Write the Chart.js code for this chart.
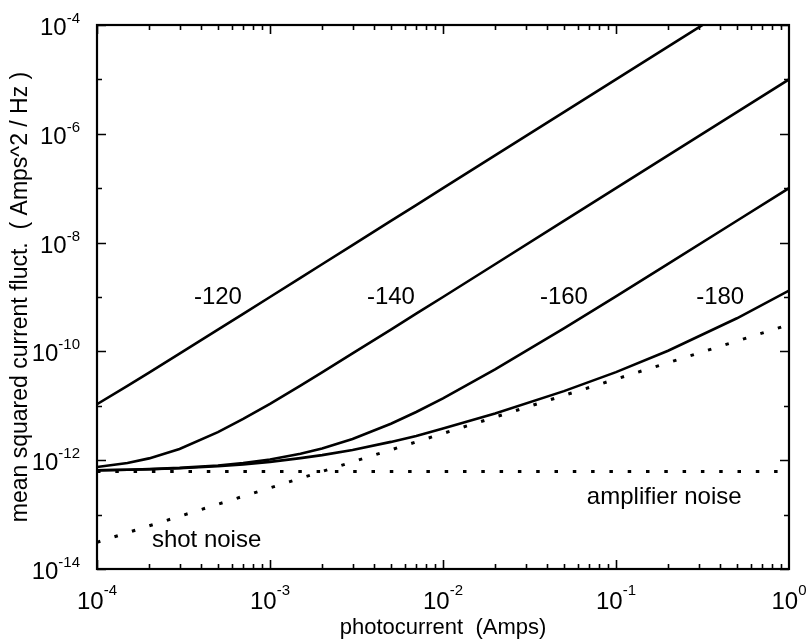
<!DOCTYPE html>
<html>
<head>
<meta charset="utf-8">
<script src="https://cdn.jsdelivr.net/npm/chart.js@4.4.1/dist/chart.umd.min.js"></script>
<style>
  html, body { margin: 0; padding: 0; background: #fff; }
  #wrap { width: 809px; height: 643px; }
</style>
</head>
<body>
<div id="wrap"><canvas id="c" width="809" height="643"></canvas></div>
<script>
// Photocurrent samples (A) and mean squared current fluctuation (A^2/Hz)
const photocurrent = [1e-4, 1.5e-4, 2e-4, 3e-4, 5e-4, 7e-4, 1e-3, 1.5e-3, 2e-3, 3e-3,
                      5e-3, 7e-3, 1e-2, 2e-2, 5e-2, 1e-1, 2e-1, 5e-1, 1];
const noiseRin120 = [1.07e-11, 2.32e-11, 4.07e-11, 9.07e-11, 2.51e-10, 4.91e-10, 1.0e-9, 2.25e-9, 4.0e-9, 9.0e-9,
                     2.5e-8, 4.9e-8, 1.0e-7, 4.0e-7, 2.5e-6, 1.0e-5, 4.0e-5, 2.5e-4, 1.0e-3];
const noiseRin140 = [7.5e-13, 8.9e-13, 1.08e-12, 1.61e-12, 3.28e-12, 5.74e-12, 1.09e-11, 2.36e-11, 4.12e-11, 9.16e-11,
                     2.52e-10, 4.93e-10, 1.0e-9, 4.0e-9, 2.5e-8, 1.0e-7, 4.0e-7, 2.5e-6, 1.0e-5];
const noiseRin160 = [6.52e-13, 6.69e-13, 6.86e-13, 7.22e-13, 8.0e-13, 8.86e-13, 1.03e-12, 1.31e-12, 1.64e-12, 2.45e-12,
                     4.67e-12, 7.69e-12, 1.37e-11, 4.68e-11, 2.66e-10, 1.03e-9, 4.06e-9, 2.52e-8, 1.0e-7];
const noiseRin180 = [6.51e-13, 6.67e-13, 6.82e-13, 7.13e-13, 7.75e-13, 8.37e-13, 9.3e-13, 1.09e-12, 1.24e-12, 1.54e-12,
                     2.17e-12, 2.79e-12, 3.82e-12, 7.22e-12, 1.86e-11, 4.16e-11, 1.03e-10, 4.06e-10, 1.31e-9];

// Noise floors over the whole current range
const floorCurrent = [1e-4, 1];
const amplifierNoise = [6.2e-13, 6.2e-13];
const shotNoise = [3.1e-14, 3.1e-10];

// Curve annotations: RIN level (dB/Hz) and where each sits in data space
const rinLabels = ['-120', '-140', '-160', '-180'];
const rinLabelCurrent = [5e-4, 5e-3, 5e-2, 0.4];
const rinLabelNoise = [1e-9, 1e-9, 1e-9, 1e-9];

// Axis decades
const xDecades = [-4, -3, -2, -1, 0];
const yDecades = [-14, -13, -12, -11, -10, -9, -8, -7, -6, -5, -4];
const yLabelledDecades = [-14, -12, -10, -8, -6, -4];

const FONT = '"Liberation Sans", Arial, Helvetica, sans-serif';

const pts = (xs, ys) => xs.map((v, i) => ({ x: v, y: ys[i] }));

const solid = (data) => ({
  data, showLine: true, borderColor: '#000', borderWidth: 2.6,
  pointRadius: 0, fill: false, tension: 0
});
const dotted = (data) => ({
  data, showLine: true, borderColor: '#000', borderWidth: 3,
  borderDash: [3.5, 14.8], borderCapStyle: 'butt',
  pointRadius: 0, fill: false, tension: 0
});

// Frame with inward tick marks, superscript tick labels, axis titles, annotations
const decorations = {
  id: 'decorations',
  afterDraw(chart) {
    const { ctx, chartArea: a, scales: { x, y } } = chart;
    ctx.save();
    ctx.strokeStyle = '#000';
    ctx.fillStyle = '#000';

    // tick marks
    ctx.lineWidth = 1.6;
    ctx.beginPath();
    for (let i = 0; i < xDecades.length - 1; i++) {
      for (let m = 1; m <= 9; m++) {
        const px = Math.round(x.getPixelForValue(m * Math.pow(10, xDecades[i]))) + 0.5;
        const len = m === 1 ? 9 : 5;
        ctx.moveTo(px, a.bottom); ctx.lineTo(px, a.bottom - len);
        ctx.moveTo(px, a.top); ctx.lineTo(px, a.top + len);
      }
    }
    yDecades.forEach(e => {
      const py = Math.round(y.getPixelForValue(Math.pow(10, e))) + 0.5;
      const len = yLabelledDecades.includes(e) ? 9 : 5;
      ctx.moveTo(a.left, py); ctx.lineTo(a.left + len, py);
      ctx.moveTo(a.right, py); ctx.lineTo(a.right - len, py);
    });
    ctx.stroke();

    // frame
    ctx.lineWidth = 2.2;
    ctx.strokeRect(a.left, a.top, a.right - a.left, a.bottom - a.top);

    const baseFont = '24px ' + FONT;
    const expFont = '15px ' + FONT;
    ctx.textBaseline = 'alphabetic';
    ctx.textAlign = 'left';

    // y tick labels
    yLabelledDecades.forEach(e => {
      const py = y.getPixelForValue(Math.pow(10, e));
      const exp = String(e);
      ctx.font = expFont; const we = ctx.measureText(exp).width;
      ctx.font = baseFont; const wb = ctx.measureText('10').width;
      const right = a.left - 17;
      ctx.fillText('10', right - we - wb, py + 10);
      ctx.font = expFont;
      ctx.fillText(exp, right - we, py - 2);
    });

    // x tick labels
    xDecades.forEach(e => {
      const px = x.getPixelForValue(Math.pow(10, e));
      const exp = String(e);
      ctx.font = expFont; const we = ctx.measureText(exp).width;
      ctx.font = baseFont; const wb = ctx.measureText('10').width;
      const left = px - (wb + we) / 2;
      ctx.fillText('10', left, a.bottom + 40);
      ctx.font = expFont;
      ctx.fillText(exp, left + wb, a.bottom + 26);
    });

    // axis titles
    ctx.font = '22px ' + FONT;
    ctx.textAlign = 'center';
    ctx.textBaseline = 'middle';
    ctx.fillText('photocurrent  (Amps)', (a.left + a.right) / 2, 628);
    ctx.save();
    ctx.font = '23px ' + FONT;
    ctx.translate(21, (a.top + a.bottom) / 2);
    ctx.rotate(-Math.PI / 2);
    ctx.fillText('mean squared current fluct.  ( Amps^2 / Hz )', 0, 0);
    ctx.restore();

    // annotations
    ctx.font = '24px ' + FONT;
    rinLabels.forEach((t, i) => {
      ctx.fillText(t, x.getPixelForValue(rinLabelCurrent[i]), y.getPixelForValue(rinLabelNoise[i]));
    });
    ctx.fillText('amplifier noise', x.getPixelForValue(0.19), y.getPixelForValue(2.1e-13));
    ctx.fillText('shot noise', x.getPixelForValue(4.3e-4), y.getPixelForValue(3.4e-14));

    ctx.restore();
  }
};

new Chart(document.getElementById('c'), {
  type: 'scatter',
  data: {
    datasets: [
      solid(pts(photocurrent, noiseRin120)),
      solid(pts(photocurrent, noiseRin140)),
      solid(pts(photocurrent, noiseRin160)),
      solid(pts(photocurrent, noiseRin180)),
      dotted(pts(floorCurrent, amplifierNoise)),
      dotted(pts(floorCurrent, shotNoise))
    ]
  },
  options: {
    responsive: false,
    animation: false,
    devicePixelRatio: 1,
    layout: { padding: { left: 97, right: 20, top: 25, bottom: 74 } },
    plugins: { legend: { display: false }, tooltip: { enabled: false } },
    scales: {
      x: {
        type: 'logarithmic', min: 1e-4, max: 1,
        ticks: { display: false },
        grid: { display: false, drawTicks: false },
        border: { display: false }
      },
      y: {
        type: 'logarithmic', min: 1e-14, max: 1e-4,
        ticks: { display: false },
        grid: { display: false, drawTicks: false },
        border: { display: false }
      }
    }
  },
  plugins: [decorations]
});
</script>
</body>
</html>
